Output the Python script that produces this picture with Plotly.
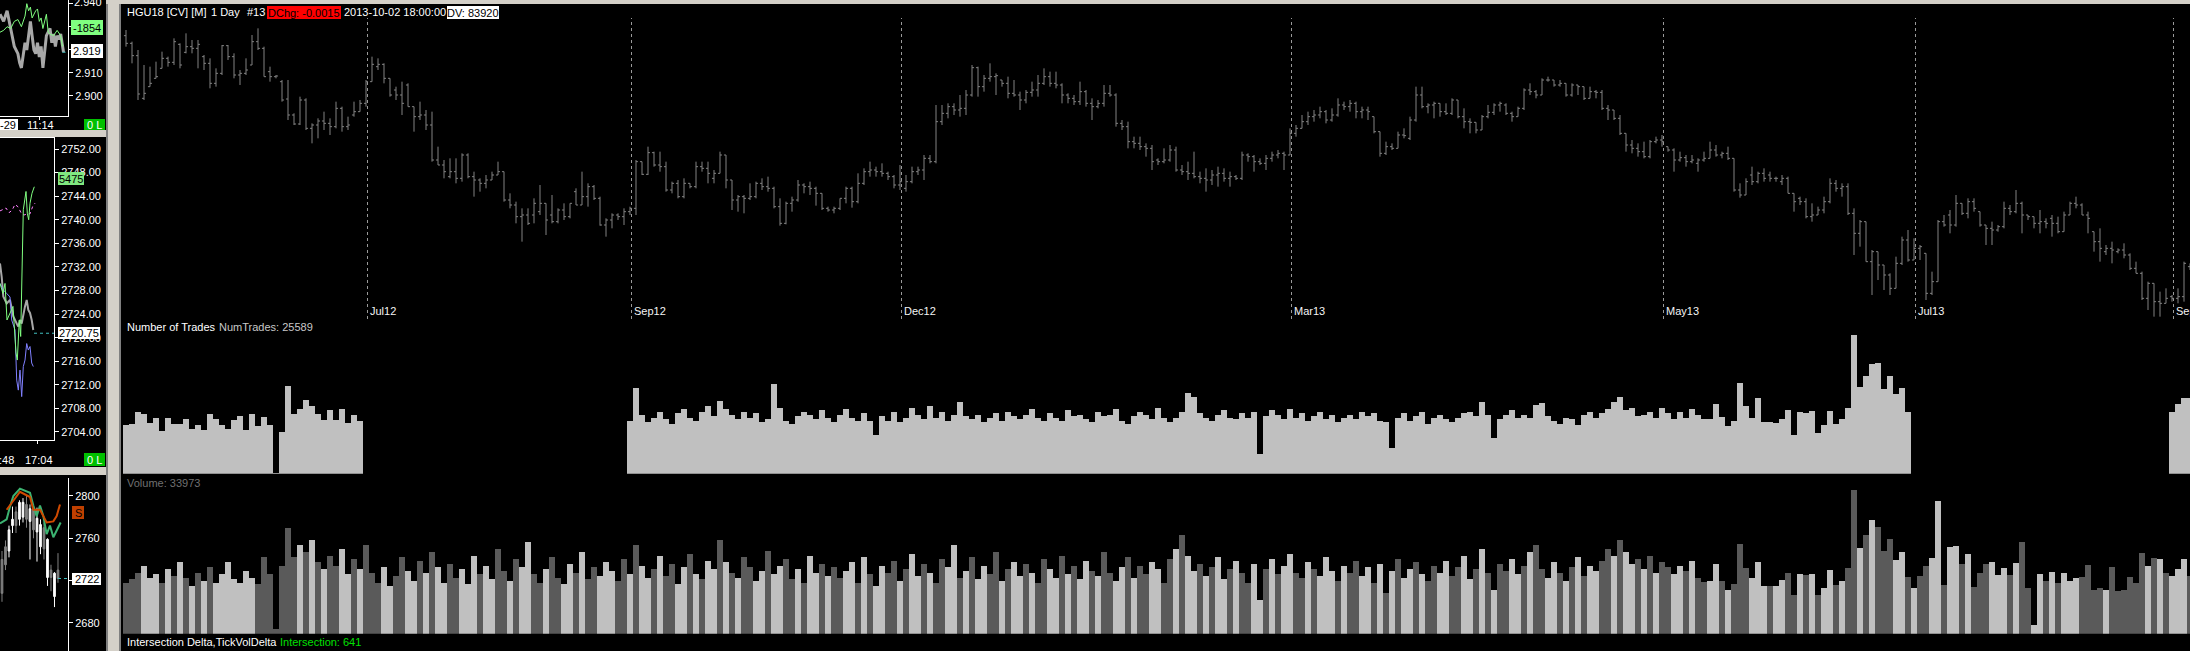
import plotly.graph_objects as go

W, H = 2190, 651
FONT = "Liberation Sans"

# ---------------- main chart data (HGU18 daily bars) ----------------
opens = [3.938,3.915,3.878,3.750,3.785,3.810,3.840,3.870,3.858,3.912,
3.888,3.905,3.900,3.875,3.855,3.795,3.825,3.908,3.875,3.820,
3.825,3.850,3.920,3.900,3.830,3.815,3.800,3.748,3.700,3.673,
3.745,3.660,3.670,3.682,3.675,3.665,3.720,3.665,3.700,3.710,
3.735,3.800,3.845,3.852,3.810,3.775,3.760,3.790,3.725,3.695,
3.700,3.670,3.565,3.550,3.515,3.530,3.510,3.580,3.515,3.505,
3.495,3.505,3.520,3.530,3.445,3.430,3.395,3.400,3.400,3.410,
3.435,3.400,3.380,3.415,3.395,3.470,3.430,3.455,3.485,3.450,
3.370,3.385,3.400,3.395,3.410,3.420,3.560,3.522,3.587,3.550,
3.545,3.475,3.495,3.455,3.495,3.485,3.545,3.540,3.510,3.525,
3.580,3.505,3.445,3.455,3.450,3.455,3.495,3.485,3.480,3.425,
3.375,3.435,3.445,3.490,3.485,3.480,3.465,3.420,3.415,3.420,
3.450,3.480,3.440,3.495,3.530,3.535,3.530,3.525,3.515,3.490,
3.480,3.500,3.530,3.535,3.570,3.560,3.680,3.705,3.725,3.715,
3.720,3.760,3.842,3.785,3.810,3.815,3.805,3.795,3.765,3.760,
3.745,3.768,3.775,3.795,3.815,3.795,3.790,3.760,3.750,3.740,
3.770,3.735,3.725,3.735,3.765,3.760,3.675,3.665,3.620,3.615,
3.605,3.600,3.565,3.560,3.565,3.595,3.535,3.530,3.525,3.515,
3.510,3.505,3.520,3.525,3.510,3.515,3.510,3.580,3.575,3.560,
3.555,3.570,3.580,3.585,3.580,3.645,3.660,3.680,3.695,3.700,
3.710,3.685,3.700,3.730,3.725,3.735,3.710,3.715,3.695,3.650,
3.585,3.605,3.600,3.640,3.630,3.685,3.760,3.725,3.730,3.735,
3.710,3.705,3.745,3.695,3.680,3.678,3.655,3.695,3.708,3.730,
3.730,3.705,3.695,3.720,3.775,3.770,3.760,3.805,3.805,3.790,
3.795,3.760,3.790,3.785,3.750,3.770,3.768,3.720,3.715,3.690,
3.645,3.610,3.600,3.590,3.575,3.620,3.625,3.605,3.595,3.565,
3.572,3.560,3.555,3.565,3.570,3.595,3.580,3.585,3.570,3.475,
3.460,3.520,3.500,3.525,3.520,3.510,3.500,3.510,3.465,3.450,
3.440,3.395,3.400,3.415,3.440,3.495,3.480,3.485,3.405,3.345,
3.380,3.260,3.290,3.250,3.220,3.180,3.255,3.325,3.265,3.300,
3.285,3.165,3.200,3.380,3.400,3.370,3.435,3.405,3.440,3.410,
3.370,3.360,3.355,3.365,3.420,3.410,3.435,3.400,3.395,3.375,
3.380,3.390,3.375,3.350,3.400,3.435,3.430,3.400,3.350,3.320,
3.290,3.300,3.290,3.295,3.280,3.240,3.225,3.150,3.195,3.140,
3.135,3.155,3.150,3.155,3.245]
highs = [3.955,3.920,3.895,3.850,3.845,3.860,3.890,3.875,3.930,3.915,
3.945,3.925,3.925,3.880,3.870,3.840,3.910,3.910,3.885,3.835,
3.870,3.940,3.960,3.905,3.845,3.820,3.805,3.805,3.705,3.755,
3.750,3.675,3.690,3.710,3.690,3.740,3.725,3.695,3.740,3.745,
3.805,3.875,3.870,3.855,3.810,3.785,3.800,3.795,3.725,3.740,
3.715,3.710,3.605,3.565,3.570,3.570,3.585,3.585,3.530,3.510,
3.520,3.530,3.560,3.530,3.465,3.440,3.420,3.420,3.450,3.490,
3.435,3.460,3.420,3.435,3.435,3.480,3.530,3.495,3.490,3.455,
3.390,3.405,3.405,3.420,3.425,3.565,3.560,3.605,3.590,3.590,
3.560,3.500,3.505,3.510,3.495,3.560,3.560,3.560,3.535,3.590,
3.580,3.505,3.460,3.460,3.495,3.500,3.510,3.515,3.485,3.450,
3.440,3.455,3.505,3.495,3.500,3.485,3.465,3.425,3.425,3.450,
3.485,3.485,3.525,3.540,3.560,3.545,3.555,3.530,3.520,3.550,
3.520,3.545,3.545,3.580,3.580,3.730,3.730,3.735,3.735,3.760,
3.775,3.850,3.845,3.820,3.855,3.825,3.805,3.815,3.805,3.770,
3.775,3.800,3.820,3.840,3.830,3.830,3.795,3.765,3.760,3.800,
3.775,3.750,3.745,3.790,3.790,3.765,3.685,3.680,3.635,3.635,
3.615,3.610,3.570,3.600,3.610,3.605,3.550,3.560,3.590,3.530,
3.540,3.535,3.545,3.540,3.530,3.520,3.590,3.585,3.580,3.570,
3.580,3.590,3.595,3.590,3.660,3.670,3.700,3.710,3.715,3.725,
3.715,3.720,3.750,3.740,3.745,3.740,3.725,3.725,3.695,3.650,
3.620,3.615,3.650,3.660,3.695,3.785,3.785,3.735,3.740,3.735,
3.735,3.750,3.745,3.720,3.690,3.678,3.700,3.730,3.735,3.740,
3.735,3.710,3.725,3.780,3.795,3.775,3.810,3.815,3.805,3.805,
3.795,3.795,3.790,3.785,3.785,3.775,3.775,3.730,3.715,3.700,
3.645,3.625,3.615,3.620,3.625,3.635,3.640,3.605,3.600,3.590,
3.580,3.580,3.570,3.590,3.620,3.610,3.590,3.605,3.570,3.495,
3.510,3.545,3.530,3.540,3.530,3.515,3.520,3.515,3.465,3.455,
3.450,3.435,3.425,3.455,3.510,3.505,3.495,3.495,3.420,3.385,
3.380,3.295,3.290,3.250,3.225,3.275,3.335,3.355,3.330,3.310,
3.285,3.230,3.385,3.400,3.415,3.460,3.435,3.450,3.450,3.410,
3.370,3.380,3.370,3.440,3.430,3.475,3.440,3.400,3.395,3.415,
3.390,3.400,3.395,3.410,3.440,3.455,3.435,3.410,3.350,3.360,
3.310,3.320,3.300,3.315,3.285,3.260,3.230,3.200,3.195,3.170,
3.180,3.160,3.180,3.260,3.255]
lows = [3.905,3.855,3.745,3.745,3.785,3.810,3.840,3.845,3.850,3.840,
3.885,3.885,3.840,3.835,3.780,3.785,3.820,3.865,3.810,3.790,
3.820,3.850,3.895,3.815,3.800,3.810,3.740,3.685,3.670,3.670,
3.655,3.615,3.630,3.655,3.640,3.660,3.650,3.655,3.695,3.710,
3.725,3.800,3.835,3.795,3.755,3.745,3.700,3.725,3.650,3.685,
3.655,3.560,3.550,3.510,3.510,3.495,3.500,3.510,3.455,3.470,
3.480,3.505,3.520,3.440,3.420,3.375,3.320,3.370,3.375,3.400,
3.340,3.375,3.375,3.385,3.390,3.430,3.430,3.425,3.445,3.368,
3.335,3.360,3.385,3.370,3.400,3.400,3.520,3.520,3.545,3.530,
3.470,3.465,3.450,3.450,3.480,3.480,3.530,3.495,3.495,3.525,
3.480,3.415,3.410,3.405,3.445,3.450,3.475,3.470,3.420,3.368,
3.372,3.410,3.440,3.465,3.460,3.428,3.415,3.410,3.405,3.415,
3.435,3.422,3.435,3.490,3.515,3.515,3.515,3.505,3.480,3.475,
3.470,3.495,3.520,3.505,3.555,3.555,3.670,3.690,3.700,3.695,
3.700,3.755,3.755,3.770,3.800,3.760,3.785,3.750,3.755,3.715,
3.735,3.755,3.755,3.790,3.785,3.780,3.735,3.735,3.730,3.730,
3.725,3.685,3.720,3.725,3.755,3.665,3.655,3.600,3.600,3.595,
3.575,3.535,3.550,3.555,3.560,3.530,3.520,3.505,3.510,3.495,
3.470,3.490,3.485,3.500,3.485,3.505,3.505,3.560,3.530,3.550,
3.535,3.560,3.570,3.535,3.580,3.635,3.660,3.670,3.680,3.690,
3.675,3.680,3.695,3.715,3.710,3.690,3.690,3.685,3.645,3.575,
3.580,3.595,3.600,3.630,3.625,3.680,3.720,3.705,3.690,3.695,
3.700,3.700,3.690,3.660,3.645,3.645,3.655,3.690,3.700,3.710,
3.700,3.680,3.695,3.715,3.760,3.750,3.760,3.800,3.785,3.785,
3.755,3.755,3.760,3.745,3.750,3.750,3.715,3.685,3.685,3.640,
3.590,3.585,3.575,3.570,3.570,3.615,3.605,3.590,3.530,3.560,
3.545,3.555,3.530,3.560,3.570,3.575,3.570,3.565,3.470,3.452,
3.460,3.490,3.495,3.500,3.500,3.500,3.490,3.465,3.410,3.430,
3.390,3.380,3.400,3.405,3.435,3.470,3.455,3.400,3.280,3.305,
3.260,3.160,3.205,3.175,3.160,3.180,3.250,3.260,3.265,3.265,
3.145,3.160,3.200,3.365,3.345,3.365,3.400,3.390,3.410,3.365,
3.310,3.310,3.350,3.360,3.400,3.405,3.345,3.385,3.360,3.345,
3.360,3.335,3.345,3.350,3.400,3.420,3.400,3.345,3.290,3.260,
3.280,3.255,3.285,3.270,3.235,3.225,3.145,3.115,3.095,3.095,
3.135,3.140,3.135,3.140,3.235]
closes = [3.915,3.878,3.763,3.765,3.795,3.815,3.870,3.858,3.920,3.850,
3.905,3.900,3.912,3.855,3.795,3.825,3.908,3.875,3.820,3.825,
3.835,3.920,3.900,3.815,3.815,3.817,3.745,3.700,3.673,3.745,
3.660,3.670,3.682,3.675,3.665,3.720,3.665,3.670,3.710,3.735,
3.800,3.852,3.852,3.810,3.760,3.760,3.735,3.725,3.695,3.700,
3.670,3.565,3.550,3.530,3.530,3.510,3.580,3.515,3.505,3.495,
3.505,3.520,3.530,3.445,3.430,3.395,3.400,3.375,3.435,3.435,
3.385,3.380,3.415,3.395,3.435,3.430,3.455,3.485,3.450,3.370,
3.385,3.400,3.395,3.410,3.420,3.560,3.522,3.587,3.550,3.545,
3.475,3.495,3.455,3.495,3.485,3.545,3.540,3.525,3.525,3.580,
3.505,3.445,3.455,3.450,3.455,3.495,3.485,3.480,3.425,3.375,
3.435,3.445,3.490,3.485,3.480,3.465,3.420,3.415,3.420,3.450,
3.480,3.440,3.495,3.530,3.535,3.530,3.525,3.515,3.490,3.500,
3.500,3.530,3.535,3.570,3.560,3.680,3.705,3.725,3.715,3.720,
3.760,3.842,3.785,3.810,3.815,3.818,3.795,3.765,3.760,3.745,
3.768,3.775,3.795,3.815,3.795,3.790,3.760,3.750,3.740,3.770,
3.735,3.725,3.735,3.765,3.760,3.675,3.665,3.620,3.615,3.605,
3.600,3.560,3.560,3.565,3.595,3.535,3.530,3.525,3.515,3.510,
3.505,3.520,3.525,3.510,3.515,3.510,3.580,3.575,3.560,3.555,
3.570,3.580,3.585,3.580,3.645,3.660,3.680,3.695,3.700,3.710,
3.685,3.700,3.730,3.725,3.735,3.710,3.715,3.710,3.650,3.585,
3.605,3.600,3.640,3.638,3.685,3.760,3.725,3.730,3.735,3.710,
3.705,3.745,3.695,3.680,3.678,3.655,3.695,3.708,3.730,3.735,
3.705,3.695,3.720,3.775,3.770,3.760,3.805,3.805,3.790,3.795,
3.760,3.790,3.785,3.750,3.770,3.768,3.720,3.715,3.690,3.645,
3.610,3.600,3.590,3.575,3.620,3.625,3.620,3.595,3.565,3.572,
3.560,3.565,3.565,3.570,3.595,3.580,3.585,3.570,3.475,3.460,
3.500,3.500,3.525,3.510,3.510,3.510,3.510,3.465,3.440,3.440,
3.395,3.400,3.415,3.440,3.495,3.480,3.485,3.405,3.345,3.380,
3.260,3.290,3.250,3.220,3.180,3.255,3.325,3.265,3.300,3.305,
3.165,3.200,3.380,3.370,3.370,3.435,3.405,3.440,3.420,3.370,
3.360,3.355,3.365,3.420,3.410,3.435,3.400,3.395,3.375,3.380,
3.375,3.375,3.350,3.400,3.435,3.430,3.400,3.390,3.320,3.300,
3.300,3.295,3.295,3.280,3.240,3.225,3.150,3.195,3.140,3.135,
3.150,3.150,3.155,3.255,3.240]
bar_idx = list(range(len(closes)))

month_labels = ["Jul12", "Sep12", "Dec12", "Mar13", "May13", "Jul13", "Sep13"]
month_idx = [40, 84, 129, 194, 256, 298, 341]

# Number of trades (three blocks with data; no data in the gaps)
trades_b1_start = 0
trades_b1 = [16720,16950,21130,20450,17400,19100,14350,19100,17060,17060,
18760,15030,16720,14690,20450,18760,16390,15030,18420,19780,
14690,20450,16050,19440,16390,340,14010,29830,20450,22150,
25200,23170,20450,18420,21810,18420,22150,17400,20110,18080]
trades_b2_start = 84
trades_b2 = [18000,29000,20000,17500,19000,21000,18500,17000,20500,22000,
19000,18000,21000,23000,19500,24700,22000,20000,18500,21000,
19000,20500,17500,18500,30400,22500,18000,17000,19500,21000,
20000,18500,21500,19000,17500,20000,22000,19000,18000,20500,
18000,13300,19500,18000,21000,17500,19000,22500,20000,18500,
23000,19000,21000,18000,20000,24500,19500,18500,20000,17500,
19000,20500,18000,21000,19500,18500,20000,22000,19000,18000,
20500,19000,18000,21500,19500,20000,18500,17500,21000,19500,
20000,22000,18000,17000,19500,21000,20000,18500,22500,19000,
17500,19000,21000,27500,26000,20500,19000,18000,20000,21500,
19000,18500,20500,19000,21000,6700,19500,21500,20000,18500,
22000,19000,20500,18000,19500,21000,18500,20000,17500,19000,
20000,18500,21000,19500,20500,18000,17500,8600,19000,20500,
18000,19500,21000,17000,19000,20000,18500,17500,19000,20500,
21000,19500,24500,20000,12000,18500,20000,21500,19000,20000,
19000,23500,24000,19500,18000,17000,19000,18500,16500,20000,
21000,19000,20500,22000,24500,26000,21500,22500,19500,20000,
21000,19000,22500,20500,18500,21000,19000,22000,20000,
18470,18580,23570,19260,16200,17900,30700,23000,18920,25610,
17560,17450,17220,18470,21640,13140,20960,20730,21190,13820,
16430,21300,16880,18470,22210,47130,29460,33200,37160,37500,
28780,33200,27080,29000,20960]
trades_b3_start = 341
trades_b3 = [21070,23680,25600,25589]

# Volume, shaded light (L) or dark (D) per bar
volume = [30000,32000,36000,40000,33000,35000,30000,38000,34000,42000,
33000,28000,36000,31000,39000,30000,35000,42000,32000,30000,
37000,33000,29000,45000,35000,3000,40000,62000,45000,52000,
48000,55000,42000,38000,46000,40000,50000,35000,44000,38000,
52000,36000,30000,39000,28000,34000,45000,37000,31000,43000,
36000,48000,39000,30000,41000,33000,38000,29000,46000,35000,
40000,32000,50000,37000,31000,44000,39000,54000,35000,30000,
38000,45000,33000,29000,41000,36000,48000,32000,39000,34000,
42000,37000,31000,44000,35000,52000,40000,33000,38000,46000,
34000,41000,29000,39000,47000,35000,32000,43000,38000,55000,
42000,36000,33000,45000,39000,31000,37000,49000,35000,40000,
44000,32000,38000,30000,46000,36000,41000,34000,39000,33000,
37000,42000,30000,45000,35000,28000,40000,36000,43000,31000,
38000,47000,34000,41000,36000,30000,44000,39000,52000,33000,
37000,45000,32000,40000,35000,48000,31000,38000,42000,34000,
41000,36000,30000,44000,38000,33000,46000,35000,40000,32000,
43000,37000,34000,48000,36000,31000,39000,45000,33000,40000,
35000,42000,38000,30000,44000,50000,58000,46000,37000,41000,
34000,39000,45000,32000,38000,43000,36000,30000,41000,20000,
38000,44000,35000,40000,47000,36000,33000,42000,38000,34000,
45000,37000,31000,40000,36000,43000,34000,39000,30000,41000,
24000,37000,44000,33000,38000,42000,35000,31000,40000,36000,
43000,34000,39000,46000,32000,38000,50000,36000,26000,41000,
37000,44000,35000,40000,48000,52000,38000,33000,42000,36000,
31000,39000,45000,34000,40000,37000,43000,50000,46000,55000,
48000,41000,44000,38000,46000,36000,42000,39000,35000,40000,
37000,43000,33000,
30230,31020,40830,31020,25720,29250,52800,38670,32780,42200,
28070,28070,28070,31600,35730,22770,35140,34550,35140,22770,
26890,37490,28660,31020,38670,84600,50450,58100,66940,62820,
48680,55750,43380,48090,33370,26890,33960,39850,44560,78130,
28660,51040,51630,41030,46920,27480,35730,41030,42200,34550,
38670,34550,41620,53980,26890,5300,35140,31020,36320,29840,
35730,31020,32780,33370,40440,25720,26890,25720,39260,25130,
25720,33370,29840,47500,39850,44560,43970,35730,33960,38080,
43970,33973]
volume_shade = ("DDDLLLDLDL" "DLDLDLLLLL" "LLDDDDDDDL" "DLDLDDLLDL" "DDDLLDDLLD"
                "LDLLDDLLLD" "LLDDLDLLDD" "LDDLLDLDDL" "LLDDLDLLDL" "DDLLDLDLLD"
                "LDLDDLLDLL" "DDLDLLDLDD" "LLDLDLLDDL" "DLLDLDDLLD" "LDLLDDLDLL"
                "DLDDLLDLDL" "LDLDDLLDLD" "DLLDDLDLLD" "LDLLDLDDLL" "DLDLLDDLDL"
                "LLDLDDLLDL" "DLDLLDLDDL" "LDDLLDLDLD" "DLLDLDDLLD" "LDLDLLDDLD"
                "LLDLDLDDLL" "DLD"
                "DLLDLDDDLL" "LDLLDDLDLD" "LLDLDDLDLD" "DDLLDLDDLL" "DLLDLDDDLL"
                "LDLDDLLDLD" "LLLDDDDLDD" "DDDDLDLDLL" "LD")

# ---------------- side panel data ----------------
m1_ticks = [2.900, 2.910, 2.920, 2.930, 2.940]
m1_gray_x = [0,3.6,7.1,10.7,14.3,17.9,19.6,21.4,23.2,25,26.8,28.6,30.4,32.1,33.9,35.7,37.5,39.3,41.1,42.9,44.6,46.4,50,51.8,53.6,55.4,57.1,58.9,60.7,62.5,63.5]
m1_gray_y = [2.9355,2.9324,2.9370,2.9293,2.9215,2.9184,2.9145,2.9122,2.9184,2.9231,2.9200,2.9277,2.9324,2.9262,2.9200,2.9184,2.9231,2.9169,2.9215,2.9122,2.9184,2.9262,2.9293,2.9231,2.9269,2.9215,2.9262,2.9246,2.9269,2.9200,2.9190]
m1_green_x = [0,3.6,7.1,10.7,14.3,17.9,21.4,25,26.8,28.6,30.4,32.1,35.7,37.5,39.3,41.1,42.9,44.6,46.4,48.2,50,53.6,57.1,60.7,62.5]
m1_green_y = [2.9277,2.9285,2.9301,2.9293,2.9324,2.9332,2.9301,2.9347,2.9401,2.9370,2.9386,2.9339,2.9370,2.9378,2.9324,2.9339,2.9293,2.9324,2.9355,2.9277,2.9269,2.9262,2.9285,2.9262,2.9215]
m1_last = 2.919

m2_ticks = [2704, 2708, 2712, 2716, 2720, 2724, 2728, 2732, 2736, 2740, 2744, 2748, 2752]
m2_pink_x = [0,3,6,9,12,15,18,21,24,27,30,33,35]
m2_pink_y = [2741.5,2741.8,2742.0,2741.2,2741.6,2742.6,2742.2,2741.2,2740.8,2741.0,2741.0,2742.4,2742.8]
m2_green_x = [0,3,5,7,13,16,17.3,19.3,20.7,22,23.3,26,27.3,28.7,30,32,34.3]
m2_green_y = [2729.2,2727.5,2729.2,2723.0,2725.3,2717.4,2716.2,2723.0,2720.2,2730.9,2741.7,2744.8,2741.1,2740.0,2742.8,2744.5,2745.6]
m2_blue_x = [0,3.3,6.7,10,11.7,15,16.7,18.3,20,21.7,23.3,25,26.7,28.3,30,31.7,33.3]
m2_blue_y = [2729.2,2728.1,2727.5,2726.9,2723.0,2721.3,2712.8,2711.1,2714.5,2710.0,2715.1,2716.2,2719.0,2717.9,2718.5,2715.7,2715.1]
m2_gray_x = [0,1.7,3.3,6.7,10,13.3,16.7,18.3,20,21.7,25,26.7,28.3,30,31.7,33.3]
m2_gray_y = [2732.6,2730.3,2727.0,2725.8,2726.4,2723.6,2722.4,2721.9,2723.0,2722.4,2725.3,2726.4,2724.7,2724.2,2723.0,2721.3]
m2_last = 2720.75

m3_ticks = [2680, 2720, 2760, 2800]
m3_x = list(range(17))
m3_open = [2740,2752,2748,2772,2785,2778,2780,2792,2776,2788,2766,2752,2770,2723,2730,2705,2730]
m3_high = [2748,2758,2772,2790,2790,2796,2798,2800,2792,2790,2789,2778,2775,2760,2735,2728,2746]
m3_low = [2700,2730,2742,2765,2765,2772,2775,2770,2740,2760,2738,2745,2740,2715,2710,2695,2718]
m3_close = [2708,2735,2768,2778,2772,2794,2794,2778,2788,2768,2779,2773,2750,2759,2723,2727,2722]
m3_green_x = [-0.57,1.33,2.29,3.24,5.14,8,8.95,9.9,10.86,11.81,12.76,13.71,14.67,16.1,16.76]
m3_green_y = [2774,2778,2790,2800,2807,2803,2791,2781,2791,2781,2764,2772,2761,2771,2775]
m3_orange_x = [1.33,3.24,5.14,8,8.95,10.86,11.81,12.76,14.67,15.62,16.57]
m3_orange_y = [2787,2796,2804,2799,2787,2787,2781,2775,2776,2781,2792]
m3_last = 2722


def px(x):
    return x / W


def py(y):
    return 1 - y / H


fig = go.Figure()

# ---- price bars
fig.add_trace(go.Ohlc(
    x=bar_idx, open=opens, high=highs, low=lows, close=closes,
    increasing_line_color="#828282", decreasing_line_color="#828282",
    line_width=1, tickwidth=0.34, hoverinfo="skip", xaxis="x", yaxis="y"))

# ---- number of trades
for start, vals in [(trades_b1_start, trades_b1), (trades_b2_start, trades_b2), (trades_b3_start, trades_b3)]:
    fig.add_trace(go.Bar(x=list(range(start, start + len(vals))), y=vals, width=1,
                         marker_color="#c0c0c0", marker_line_width=0,
                         hoverinfo="skip", xaxis="x", yaxis="y2"))

# ---- volume
vol_colors = ["#c0c0c0" if s == "L" else "#5a5a5a" for s in volume_shade]
fig.add_trace(go.Bar(x=list(range(len(volume))), y=volume, width=1,
                     marker_color=vol_colors, marker_line_width=0,
                     hoverinfo="skip", xaxis="x", yaxis="y3"))

# ---- mini chart 1
fig.add_trace(go.Scatter(x=m1_gray_x, y=m1_gray_y, mode="lines", line=dict(color="#a8a8a8", width=3),
                         xaxis="x4", yaxis="y4", hoverinfo="skip"))
fig.add_trace(go.Scatter(x=m1_green_x, y=m1_green_y, mode="lines", line=dict(color="#80ff80", width=1),
                         xaxis="x4", yaxis="y4", hoverinfo="skip"))
fig.add_trace(go.Scatter(x=[62.5, 68], y=[m1_last, m1_last], mode="lines", line=dict(color="#40c0c0", width=1, dash="dot"),
                         xaxis="x4", yaxis="y4", hoverinfo="skip"))

# ---- mini chart 2
fig.add_trace(go.Scatter(x=m2_pink_x, y=m2_pink_y, mode="lines", line=dict(color="#ff80ff", width=1, dash="dot"),
                         xaxis="x5", yaxis="y5", hoverinfo="skip"))
fig.add_trace(go.Scatter(x=m2_gray_x, y=m2_gray_y, mode="lines", line=dict(color="#a8a8a8", width=2),
                         xaxis="x5", yaxis="y5", hoverinfo="skip"))
fig.add_trace(go.Scatter(x=m2_blue_x, y=m2_blue_y, mode="lines", line=dict(color="#8080ff", width=1),
                         xaxis="x5", yaxis="y5", hoverinfo="skip"))
fig.add_trace(go.Scatter(x=m2_green_x, y=m2_green_y, mode="lines", line=dict(color="#80ff80", width=1),
                         xaxis="x5", yaxis="y5", hoverinfo="skip"))
fig.add_trace(go.Scatter(x=[34, 54], y=[m2_last, m2_last], mode="lines", line=dict(color="#40c0c0", width=1, dash="dot"),
                         xaxis="x5", yaxis="y5", hoverinfo="skip"))

# ---- mini chart 3
fig.add_trace(go.Candlestick(x=m3_x, open=m3_open, high=m3_high, low=m3_low, close=m3_close,
                             increasing=dict(line=dict(color="#ffffff", width=1), fillcolor="#ffffff"),
                             decreasing=dict(line=dict(color="#808080", width=1), fillcolor="#808080"),
                             whiskerwidth=0, hoverinfo="skip", xaxis="x6", yaxis="y6"))
fig.add_trace(go.Scatter(x=m3_green_x, y=m3_green_y, mode="lines", line=dict(color="#3cb371", width=2),
                         xaxis="x6", yaxis="y6", hoverinfo="skip"))
fig.add_trace(go.Scatter(x=m3_orange_x, y=m3_orange_y, mode="lines", line=dict(color="#d04a00", width=2),
                         xaxis="x6", yaxis="y6", hoverinfo="skip"))
fig.add_trace(go.Scatter(x=[16, 18.86], y=[m3_last, m3_last], mode="lines", line=dict(color="#40c0c0", width=1, dash="dot"),
                         xaxis="x6", yaxis="y6", hoverinfo="skip"))

hidden = dict(visible=False, fixedrange=True)
tickfont = dict(family=FONT, size=11, color="#ffffff")

fig.update_layout(
    width=W, height=H, autosize=False,
    margin=dict(l=0, r=0, t=0, b=0, pad=0),
    paper_bgcolor="#000000", plot_bgcolor="#000000",
    showlegend=False, barmode="overlay", bargap=0,
    xaxis=dict(domain=[px(121), 1], range=[-0.8333, 344.0], rangeslider=dict(visible=False), **hidden),
    yaxis=dict(domain=[py(325), py(15)], range=[3.07, 4.0], anchor="x", **hidden),
    yaxis2=dict(domain=[py(473.7), py(330)], range=[0, 143.7 * 340], anchor="x", **hidden),
    yaxis3=dict(domain=[py(633.7), py(488)], range=[0, 145.7 * 589], anchor="x", **hidden),
    xaxis4=dict(domain=[0, px(68)], range=[0, 68], anchor="y4", showline=True, linecolor="#ffffff", linewidth=1,
                showgrid=False, zeroline=False, showticklabels=False, ticks="outside", ticklen=3, tickcolor="#ffffff",
                tickvals=[39], fixedrange=True),
    yaxis4=dict(domain=[py(116), 1], range=[2.8913, 2.9417], anchor="x4", side="right", showline=True,
                linecolor="#ffffff", linewidth=1, showgrid=False, zeroline=False, ticks="outside", ticklen=4,
                tickcolor="#ffffff", tickvals=m1_ticks, ticktext=["%.3f" % v for v in m1_ticks], tickfont=tickfont,
                fixedrange=True),
    xaxis5=dict(domain=[0, px(54)], range=[0, 54], anchor="y5", showline=True, mirror=True, linecolor="#ffffff",
                linewidth=1, showgrid=False, zeroline=False, showticklabels=False, ticks="outside", ticklen=3,
                tickcolor="#ffffff", tickvals=[37.3], fixedrange=True),
    yaxis5=dict(domain=[py(440), py(138)], range=[2702.64, 2753.87], anchor="x5", side="right", showline=True,
                linecolor="#ffffff", linewidth=1, showgrid=False, zeroline=False, ticks="outside", ticklen=4,
                tickcolor="#ffffff", tickvals=m2_ticks, ticktext=["%.2f" % v for v in m2_ticks], tickfont=tickfont,
                fixedrange=True),
    xaxis6=dict(domain=[0, px(68)], range=[-0.57, 18.86], anchor="y6", rangeslider=dict(visible=False),
                showgrid=False, zeroline=False, showticklabels=False, showline=False, fixedrange=True),
    yaxis6=dict(domain=[0, py(478)], range=[2653.5, 2817], anchor="x6", side="right", showline=True,
                linecolor="#ffffff", linewidth=1, showgrid=False, zeroline=False, ticks="outside", ticklen=4,
                tickcolor="#ffffff", tickvals=m3_ticks, ticktext=[str(v) for v in m3_ticks], tickfont=tickfont,
                fixedrange=True),
)

shapes = []
annotations = []


def rect(x0, y0, x1, y1, color, layer="above"):
    shapes.append(dict(type="rect", xref="paper", yref="paper", x0=px(x0), x1=px(x1), y0=py(y1), y1=py(y0),
                       fillcolor=color, line=dict(width=0), layer=layer))


def text(x, y, s, color="#ffffff", size=11, anchor="left", bg=None):
    annotations.append(dict(xref="paper", yref="paper", x=px(x), y=py(y), text=s, showarrow=False,
                            xanchor=anchor, yanchor="middle", font=dict(family=FONT, size=size, color=color),
                            bgcolor=bg, borderpad=0))


# month separators
for lab, i in zip(month_labels, month_idx):
    shapes.append(dict(type="line", xref="x", yref="paper", x0=i + 0.25, x1=i + 0.25, y0=py(319), y1=py(18),
                       line=dict(color="#9a9a9a", width=1, dash="dot"), layer="below"))
    annotations.append(dict(xref="x", yref="paper", x=i + 0.25, y=py(311), text=lab, showarrow=False,
                            xanchor="left", yanchor="middle", xshift=0,
                            font=dict(family=FONT, size=11, color="#f4f4f4")))

# window frame pieces
rect(106, 0, 121, 651, "#d4d0c8")
rect(106, 0, 108, 651, "#808080")
rect(119, 0, 121, 651, "#808080")
rect(106, 0, 2190, 4, "#d4d0c8")
rect(0, 130, 106, 137, "#d4d0c8")
rect(0, 467, 106, 475, "#d4d0c8")

# title line
text(126, 12, "HGU18 [CV] [M]")
text(210, 12, "1 Day")
text(246, 12, "#13")
rect(267, 6, 341, 19, "#ff0000")
text(304, 12.5, "DChg: -0.0015", color="#000000", anchor="center")
text(343, 12, "2013-10-02 18:00:00")
rect(447, 6, 499, 19, "#ffffff")
text(473, 12.5, "DV: 83920", color="#000000", anchor="center")

# panel titles
text(126, 327, "Number of Trades")
text(218, 327, "NumTrades: 25589", color="#c8c8c8")
text(126, 483, "Volume: 33973", color="#707070")
text(126, 641.5, "Intersection Delta,TickVolDelta")
text(279, 641.5, "Intersection: 641", color="#00e000")

# mini chart 1 value boxes
text(73, 2, "2.940")
rect(71, 20, 103, 35, "#80ff80")
text(87, 27.5, "-1854", color="#000000", anchor="center")
rect(71, 44, 103, 58, "#ffffff")
text(87, 51, "2.919", color="#000000", anchor="center")
rect(0, 119, 18, 130, "#ffffff")
text(17, 125, "-29", color="#000000", anchor="right")
text(26, 125, "11:14")
rect(84, 119, 105, 130, "#00c000")
text(94.5, 125, "0 L", color="#ffffff", anchor="center")

# mini chart 2 value boxes
rect(58, 172, 84, 185, "#80e880")
text(71, 178.5, "5475", color="#000000", anchor="center")
rect(58, 327, 100, 339, "#ffffff")
text(79, 333, "2720.75", color="#000000", anchor="center")
text(15, 460, ":48", anchor="right")
text(24, 460, "17:04")
rect(84, 453, 105, 466, "#00c000")
text(94.5, 459.5, "0 L", color="#ffffff", anchor="center")

# mini chart 3 value boxes
rect(72, 506, 84, 519, "#c04000")
text(78, 512.5, "S", color="#000000", anchor="center")
rect(72, 573, 101, 585, "#ffffff")
text(86.5, 579, "2722", color="#000000", anchor="center")

fig.update_layout(shapes=shapes, annotations=annotations)

fig.write_html("out.html",
               config={"displayModeBar": False, "staticPlot": True},
               post_script="document.body.style.margin='0';document.body.style.padding='0';"
                           "document.body.style.overflow='hidden';"
                           "document.documentElement.style.overflow='hidden';")
